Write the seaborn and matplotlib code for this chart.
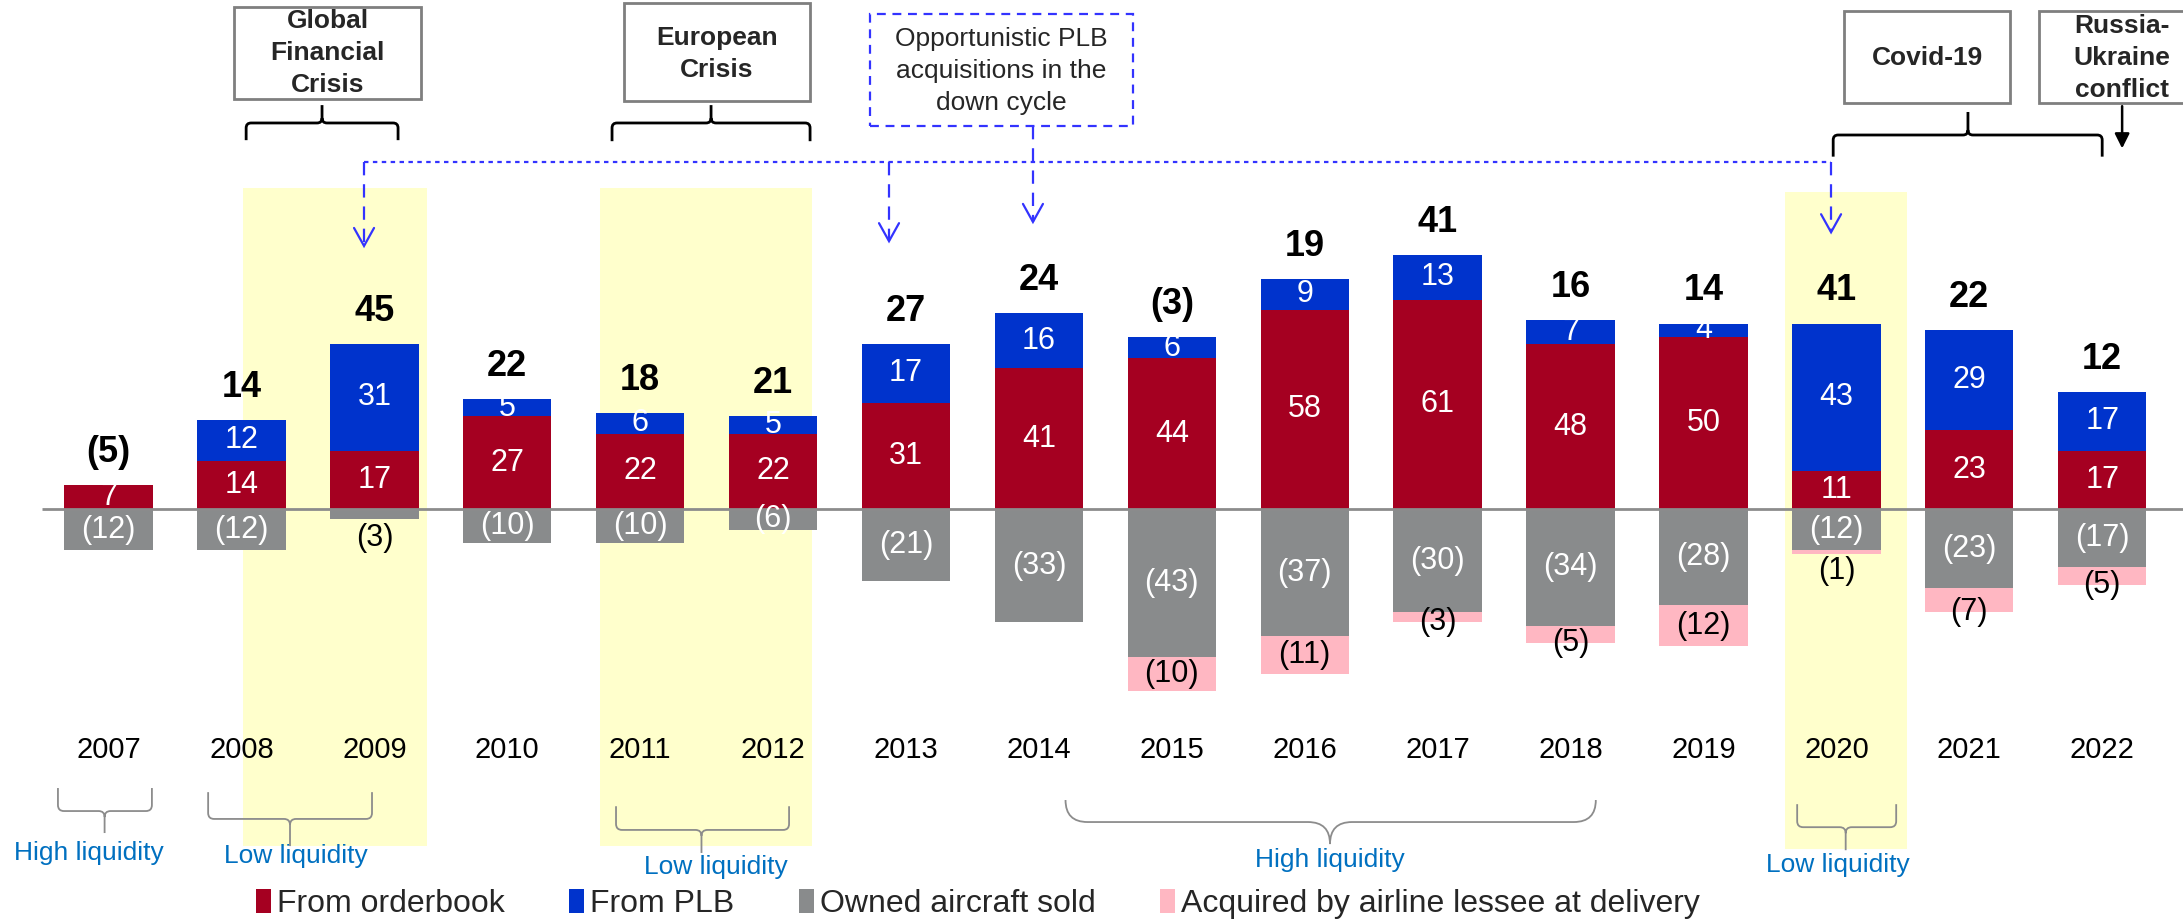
import numpy as np
import matplotlib
matplotlib.use("Agg")
import matplotlib.pyplot as plt
import seaborn as sns
from matplotlib.patches import Rectangle, Patch, PathPatch
from matplotlib.path import Path

# ---------------- data ----------------
years = [str(y) for y in range(2007, 2023)]
from_orderbook = [7, 14, 17, 27, 22, 22, 31, 41, 44, 58, 61, 48, 50, 11, 23, 17]
from_plb = [0, 12, 31, 5, 6, 5, 17, 16, 6, 9, 13, 7, 4, 43, 29, 17]
owned_sold = [-12, -12, -3, -10, -10, -6, -21, -33, -43, -37, -30, -34, -28, -12, -23, -17]
airline_lessee = [0, 0, 0, 0, 0, 0, 0, 0, -10, -11, -3, -5, -12, -1, -7, -5]
series_names = ["From orderbook", "From PLB", "Owned aircraft sold",
                "Acquired by airline lessee at delivery"]

RED, BLUE, GRAY, PINK = "#A50021", "#0033CC", "#898B8C", "#FFB7C2"
YELLOW = "#FFFFCC"
LIQ = "#0070C0"
ABLUE = "#3333FF"

# ---------------- figure ----------------
sns.set_theme(style="white")
plt.rcParams['font.family'] = ['Liberation Sans', 'DejaVu Sans']
fig = plt.figure(figsize=(21.83, 9.22), dpi=100)
ax = fig.add_axes([0, 0, 1, 1])

XPX = 132.9   # px per category
YPX = 3.435   # px per unit

# shaded periods
for x0, x1, y0, y1 in [(1.012, 2.396, -98.1, 93.4), (3.698, 5.293, -98.1, 93.4),
                       (12.614, 13.532, -99.0, 92.3)]:
    ax.add_patch(Rectangle((x0, y0), x1 - x0, y1 - y0, facecolor=YELLOW,
                           edgecolor="none", zorder=0))

ob = np.array(from_orderbook)
plb = np.array(from_plb)
sold = np.array(owned_sold)
air = np.array(airline_lessee)
pos_total = ob + plb
neg_total = sold + air

W = 0.665
sns.barplot(x=years, y=pos_total, color=BLUE, saturation=1, width=W, ax=ax, linewidth=0)
sns.barplot(x=years, y=ob, color=RED, saturation=1, width=W, ax=ax, linewidth=0)
sns.barplot(x=years, y=neg_total, color=PINK, saturation=1, width=W, ax=ax, linewidth=0)
sns.barplot(x=years, y=sold, color=GRAY, saturation=1, width=W, ax=ax, linewidth=0)

ax.plot([-0.5, 15.8], [0, 0], color="#8C8C8C", lw=2, zorder=3, solid_capstyle="butt")

ax.set_xlim(-0.817, 15.608)
ax.set_ylim(-120.2, 148.2)
ax.axis("off")

def fmt(v):
    return f"({-v})" if v < 0 else f"{v}"

SEG = 22
for i in range(len(years)):
    if ob[i] > 0:
        ax.text(i, ob[i] / 2, fmt(ob[i]), color="white", fontsize=SEG, ha="center", va="center", zorder=4)
    if plb[i] > 0:
        ax.text(i, ob[i] + plb[i] / 2, fmt(plb[i]), color="white", fontsize=SEG, ha="center", va="center", zorder=4)
    v = sold[i]
    if abs(v) >= 5:
        ax.text(i, v / 2, fmt(v), color="white", fontsize=SEG, ha="center", va="center", zorder=4)
    else:
        ax.text(i, v - 1.0, fmt(v), color="black", fontsize=SEG, ha="center", va="top", zorder=4)
    a = air[i]
    if a < 0:
        bottom = v + a
        if abs(a) >= 10:
            ax.text(i, v + a / 2, fmt(a), color="black", fontsize=SEG, ha="center", va="center", zorder=4)
        elif abs(a) >= 3:
            ax.text(i, bottom, fmt(a), color="black", fontsize=SEG, ha="center", va="center", zorder=4)
        else:
            ax.text(i, bottom - 0.8, fmt(a), color="black", fontsize=SEG, ha="center", va="top", zorder=4)
    net = pos_total[i] + neg_total[i]
    ax.text(i, pos_total[i] + 9.5, fmt(net), color="black", fontsize=26, fontweight="bold",
            ha="center", va="center", zorder=4)
    ax.text(i, -70.2, years[i], color="black", fontsize=21, ha="center", va="center")

# ---------------- annotations ----------------
def brace(x0, x1, xt, y_end, y_h, y_tip, color, lw, rpx):
    rx = rpx / XPX
    s = 1 if y_tip > y_h else -1
    ry = s * rpx / YPX
    verts = [(x0, y_end), (x0, y_h - ry), (x0, y_h), (x0 + rx, y_h),
             (xt - rx, y_h), (xt, y_h), (xt, y_h + ry), (xt, y_tip),
             (xt, y_h + ry), (xt, y_h), (xt + rx, y_h),
             (x1 - rx, y_h), (x1, y_h), (x1, y_h - ry), (x1, y_end)]
    codes = [Path.MOVETO, Path.LINETO, Path.CURVE3, Path.CURVE3,
             Path.LINETO, Path.CURVE3, Path.CURVE3, Path.LINETO,
             Path.MOVETO, Path.CURVE3, Path.CURVE3,
             Path.LINETO, Path.CURVE3, Path.CURVE3, Path.LINETO]
    ax.add_patch(PathPatch(Path(verts, codes), facecolor="none", edgecolor=color, lw=lw, zorder=5))

def box(x0, x1, y0, y1, text, tx, ty, bold=True, edge="#7F7F7F", ls="-", lw=2, fs=19):
    ax.add_patch(Rectangle((x0, y0), x1 - x0, y1 - y0, facecolor="white", edgecolor=edge,
                           lw=lw, linestyle=ls, zorder=5))
    ax.text(tx, ty, text, fontsize=fs, fontweight="bold" if bold else "normal",
            ha="center", va="center", linespacing=1.42, zorder=6)

def vhead(x, y, color, lw=1.6):
    hw, hl = 10 / XPX, 18 / YPX
    ax.plot([x - hw, x, x + hw], [y + hl, y, y + hl], color=color, lw=lw, zorder=6,
            solid_joinstyle="miter")

# event boxes
box(0.943, 2.350, 119.4, 146.1, "Global\nFinancial\nCrisis", 1.647, 132.8)
box(3.878, 5.278, 118.8, 147.3, "European\nCrisis", 4.578, 132.6)
box(5.729, 7.708, 111.5, 144.1, "Opportunistic PLB\nacquisitions in the\ndown cycle", 6.715, 127.5,
    bold=False, edge=ABLUE, ls=(0, (4, 3)), lw=1.6)
box(13.059, 14.308, 118.2, 145.0, "Covid-19", 13.683, 131.3)
box(14.526, 15.75, 118.2, 145.0, "Russia-\nUkraine\nconflict", 15.15, 131.3)

# top braces
brace(1.035, 2.178, 1.606, 107.4, 112.4, 117.6, "black", 2, 5)
brace(3.788, 5.278, 4.533, 107.1, 112.4, 117.6, "black", 2, 5)
brace(12.976, 15.0, 13.99, 102.6, 108.9, 115.6, "black", 2, 5)

# Russia arrow
ax.annotate("", xy=(15.15, 105.0), xytext=(15.15, 117.3),
            arrowprops=dict(arrowstyle="-|>", color="black", lw=1.8, mutation_scale=22,
                            shrinkA=0, shrinkB=0), zorder=6)

# opportunistic PLB dotted connectors
ax.plot([1.922, 12.96], [101.0, 101.0], color=ABLUE, lw=1.6, ls=(0, (2, 2)), zorder=5)
for x, ytop, ytip in [(1.922, 101.0, 76.6), (5.872, 101.0, 78.0), (6.955, 111.5, 83.6),
                      (12.96, 101.0, 80.6)]:
    ax.plot([x, x], [ytop, ytip], color=ABLUE, lw=1.6, ls=(0, (6, 4)), zorder=5)
    vhead(x, ytip, ABLUE)

# bottom liquidity braces
BR = "#8C8C8C"
brace(-0.381, 0.326, -0.03, -81.2, -87.9, -94.3, BR, 1.3, 6)
brace(0.749, 1.982, 1.365, -82.4, -90.2, -98.1, BR, 1.3, 6)
brace(3.818, 5.120, 4.461, -86.5, -93.4, -100.1, BR, 1.3, 6)
brace(7.20, 11.19, 9.19, -84.7, -91.1, -97.2, BR, 1.3, 22)
brace(12.705, 13.45, 13.07, -85.9, -92.6, -99.3, BR, 1.3, 6)

for tx, ty, t in [(-0.147, -100.1, "High liquidity"), (1.41, -100.9, "Low liquidity"),
                  (4.57, -104.2, "Low liquidity"), (9.19, -102.2, "High liquidity"),
                  (13.01, -103.6, "Low liquidity")]:
    ax.text(tx, ty, t, color=LIQ, fontsize=19, ha="center", va="center")

# legend
handles = [Patch(facecolor=c, edgecolor="none") for c in [RED, BLUE, GRAY, PINK]]
fig.legend(handles, series_names, loc="center left",
           bbox_to_anchor=(256 / 2183, 1 - 904 / 922), bbox_transform=fig.transFigure,
           ncol=4, frameon=False, fontsize=23, handlelength=0.47, handleheight=0.75,
           handletextpad=0.2, columnspacing=2.0, borderpad=0, borderaxespad=0)

fig.savefig("out.png", dpi=100)
